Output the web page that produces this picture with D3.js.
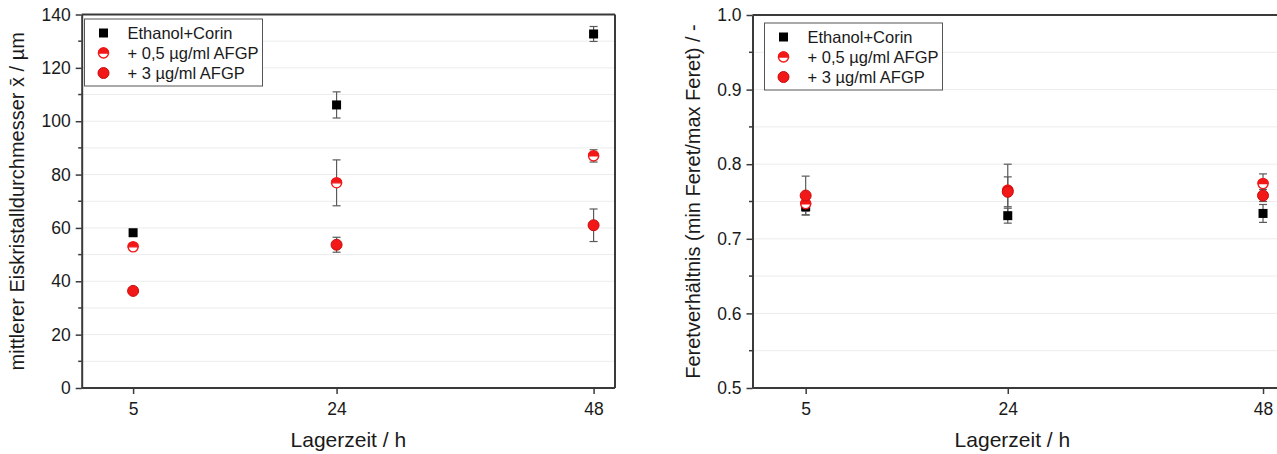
<!DOCTYPE html>
<html>
<head>
<meta charset="utf-8">
<script src="https://cdn.jsdelivr.net/npm/d3@7"></script>
<style>
  html, body { margin: 0; padding: 0; background: #fff; }
  svg { display: block; font-family: "Liberation Sans", Arial, sans-serif; }
</style>
</head>
<body>
<svg id="chart" width="1277" height="454"></svg>
<script>
// Storage times (h) on the x axis
const storageTimes = [5, 24, 48];
const seriesNames = ["Ethanol+Corin", "+ 0,5 µg/ml AFGP", "+ 3 µg/ml AFGP"];

// Mean ice crystal diameter (µm) and standard deviation
const diameterEthanol = [58.2, 106.1, 132.7];
const diameterEthanolErr = [1.0, 4.9, 2.8];
const diameterAfgp05 = [52.9, 76.9, 87.0];
const diameterAfgp05Err = [1.2, 8.6, 2.3];
const diameterAfgp3 = [36.4, 53.7, 61.0];
const diameterAfgp3Err = [0.8, 2.8, 6.1];

// Feret ratio (min Feret / max Feret) and standard deviation
const feretEthanol = [0.743, 0.731, 0.734];
const feretEthanolErr = [0.011, 0.010, 0.012];
const feretAfgp05 = [0.747, 0.765, 0.774];
const feretAfgp05Err = [0.010, 0.035, 0.013];
const feretAfgp3 = [0.758, 0.763, 0.758];
const feretAfgp3Err = [0.026, 0.020, 0.008];

// Axis ticks
const xTicks = [5, 24, 48];
const diameterTicks = [0, 20, 40, 60, 80, 100, 120, 140];
const diameterMinor = [10, 30, 50, 70, 90, 110, 130];
const feretTicks = [0.5, 0.6, 0.7, 0.8, 0.9, 1.0];
const feretMinor = [0.55, 0.65, 0.75, 0.85, 0.95];

const RED = "#f21818";
const AXIS = "#3a3a3a";
const ERR = "#5a5a5a";
const TEXT = "#1a1a1a";
const svg = d3.select("#chart");

function drawPanel(opt) {
  const g = svg.append("g");
  const x = d3.scaleLinear().domain(opt.xDomain).range(opt.xRange);
  const y = d3.scaleLinear().domain(opt.yDomain).range(opt.yRange);
  const [x0, x1] = opt.xRange;
  const [yb, yt] = opt.yRange;

  // faint horizontal grid
  g.append("g").selectAll("line")
    .data(opt.grid)
    .join("line")
    .attr("x1", x0).attr("x2", x1)
    .attr("y1", d => y(d)).attr("y2", d => y(d))
    .attr("stroke", "#ececec").attr("stroke-width", 1);

  // frame: top and right border
  g.append("line").attr("x1", x0).attr("x2", x1).attr("y1", yt).attr("y2", yt)
    .attr("stroke", AXIS).attr("stroke-width", 2);
  g.append("line").attr("x1", x1).attr("x2", x1).attr("y1", yt).attr("y2", yb)
    .attr("stroke", AXIS).attr("stroke-width", 2);

  // left axis
  const yAxis = d3.axisLeft(y).tickValues(opt.yTicks).tickFormat(opt.yFormat)
    .tickSizeInner(6).tickSizeOuter(0).tickPadding(5);
  const ya = g.append("g").attr("transform", `translate(${x0},0)`).call(yAxis);
  ya.select(".domain").attr("stroke", AXIS).attr("stroke-width", 2);
  ya.selectAll(".tick line").attr("stroke", AXIS).attr("stroke-width", 1.5);
  ya.selectAll(".tick text").attr("font-size", 17.5).attr("fill", TEXT);
  g.append("g").selectAll("line").data(opt.yMinor).join("line")
    .attr("x1", x0 - 3.5).attr("x2", x0)
    .attr("y1", d => y(d)).attr("y2", d => y(d))
    .attr("stroke", AXIS).attr("stroke-width", 1.5);

  // bottom axis
  const xAxis = d3.axisBottom(x).tickValues(xTicks).tickFormat(d3.format("d"))
    .tickSizeInner(6).tickSizeOuter(0).tickPadding(9);
  const xa = g.append("g").attr("transform", `translate(0,${yb})`).call(xAxis);
  xa.select(".domain").attr("stroke", AXIS).attr("stroke-width", 2)
    .attr("d", `M${x0},0H${x1}`);
  xa.selectAll(".tick line").attr("stroke", AXIS).attr("stroke-width", 1.5);
  xa.selectAll(".tick text").attr("font-size", 17.5).attr("fill", TEXT);

  // axis titles
  g.append("text")
    .attr("x", (x0 + x1) / 2 + opt.xTitleShift).attr("y", yb + 59)
    .attr("text-anchor", "middle").attr("font-size", 21).attr("fill", TEXT)
    .text("Lagerzeit / h");
  g.append("text")
    .attr("transform", `translate(${opt.yTitleX},${(yb + yt) / 2}) rotate(-90)`)
    .attr("text-anchor", "middle").attr("font-size", 20).attr("fill", TEXT)
    .text(opt.yTitle);

  // error bars
  const errG = g.append("g");
  opt.series.forEach(s => {
    const pts = storageTimes.map((t, i) => ({ t, v: s.values[i], e: s.errors[i] }));
    const eb = errG.append("g").selectAll("g").data(pts).join("g");
    eb.append("line")
      .attr("x1", d => x(d.t)).attr("x2", d => x(d.t))
      .attr("y1", d => y(d.v - d.e)).attr("y2", d => y(d.v + d.e))
      .attr("stroke", ERR).attr("stroke-width", 1.2);
    [-1, 1].forEach(sg => {
      eb.append("line")
        .attr("x1", d => x(d.t) - 4).attr("x2", d => x(d.t) + 4)
        .attr("y1", d => y(d.v + sg * d.e)).attr("y2", d => y(d.v + sg * d.e))
        .attr("stroke", ERR).attr("stroke-width", 1.2);
    });
  });

  // markers
  opt.series.forEach(s => {
    const pts = storageTimes.map((t, i) => ({ t, v: s.values[i] }));
    const mg = g.append("g");
    pts.forEach(p => drawMarker(mg, s.kind, x(p.t), y(p.v)));
  });

  // legend
  const lg = g.append("g").attr("transform", `translate(${opt.legend[0]},${opt.legend[1]})`);
  lg.append("rect").attr("x", 0).attr("y", 0).attr("width", 178).attr("height", 67)
    .attr("fill", "#fff").attr("stroke", "#555").attr("stroke-width", 1);
  opt.series.forEach((s, i) => {
    const cy = 14 + i * 20;
    drawMarker(lg, s.kind, 19, cy);
    lg.append("text").attr("x", 43).attr("y", cy + 6)
      .attr("font-size", 16.5).attr("fill", TEXT).text(s.name);
  });
}

function drawMarker(g, kind, cx, cy) {
  if (kind === "square") {
    g.append("rect").attr("x", cx - 4.5).attr("y", cy - 4.5)
      .attr("width", 9).attr("height", 9).attr("fill", "#000");
  } else if (kind === "half") {
    const r = 5;
    g.append("circle").attr("cx", cx).attr("cy", cy).attr("r", r)
      .attr("fill", "#fff").attr("stroke", RED).attr("stroke-width", 1.4);
    g.append("path")
      .attr("d", `M${cx - r},${cy} A${r},${r} 0 0 1 ${cx + r},${cy} Z`)
      .attr("fill", RED).attr("stroke", RED).attr("stroke-width", 1.4);
  } else {
    g.append("circle").attr("cx", cx).attr("cy", cy).attr("r", 5.5)
      .attr("fill", RED).attr("stroke", "#c80c0c").attr("stroke-width", 1);
  }
}

drawPanel({
  xDomain: [0.2, 50], xRange: [81.7, 615],
  yDomain: [0, 140], yRange: [388, 14.5],
  yTicks: diameterTicks, yMinor: diameterMinor, yFormat: d3.format("d"),
  grid: d3.range(10, 140, 10),
  yTitle: "mittlerer Eiskristalldurchmesser x̄ / µm", yTitleX: 24,
  xTitleShift: 0,
  legend: [84.5, 19],
  series: [
    { name: seriesNames[0], kind: "square", values: diameterEthanol, errors: diameterEthanolErr },
    { name: seriesNames[1], kind: "half", values: diameterAfgp05, errors: diameterAfgp05Err },
    { name: seriesNames[2], kind: "full", values: diameterAfgp3, errors: diameterAfgp3Err }
  ]
});

drawPanel({
  xDomain: [0, 50], xRange: [752.5, 1284.3],
  yDomain: [0.5, 1.0], yRange: [388, 15],
  yTicks: feretTicks, yMinor: feretMinor, yFormat: d3.format(".1f"),
  grid: d3.range(0.55, 0.999, 0.05),
  yTitle: "Feretverhältnis (min Feret/max Feret) / -", yTitleX: 700,
  xTitleShift: -6,
  legend: [764.5, 23],
  series: [
    { name: seriesNames[0], kind: "square", values: feretEthanol, errors: feretEthanolErr },
    { name: seriesNames[1], kind: "half", values: feretAfgp05, errors: feretAfgp05Err },
    { name: seriesNames[2], kind: "full", values: feretAfgp3, errors: feretAfgp3Err }
  ]
});
</script>
</body>
</html>
